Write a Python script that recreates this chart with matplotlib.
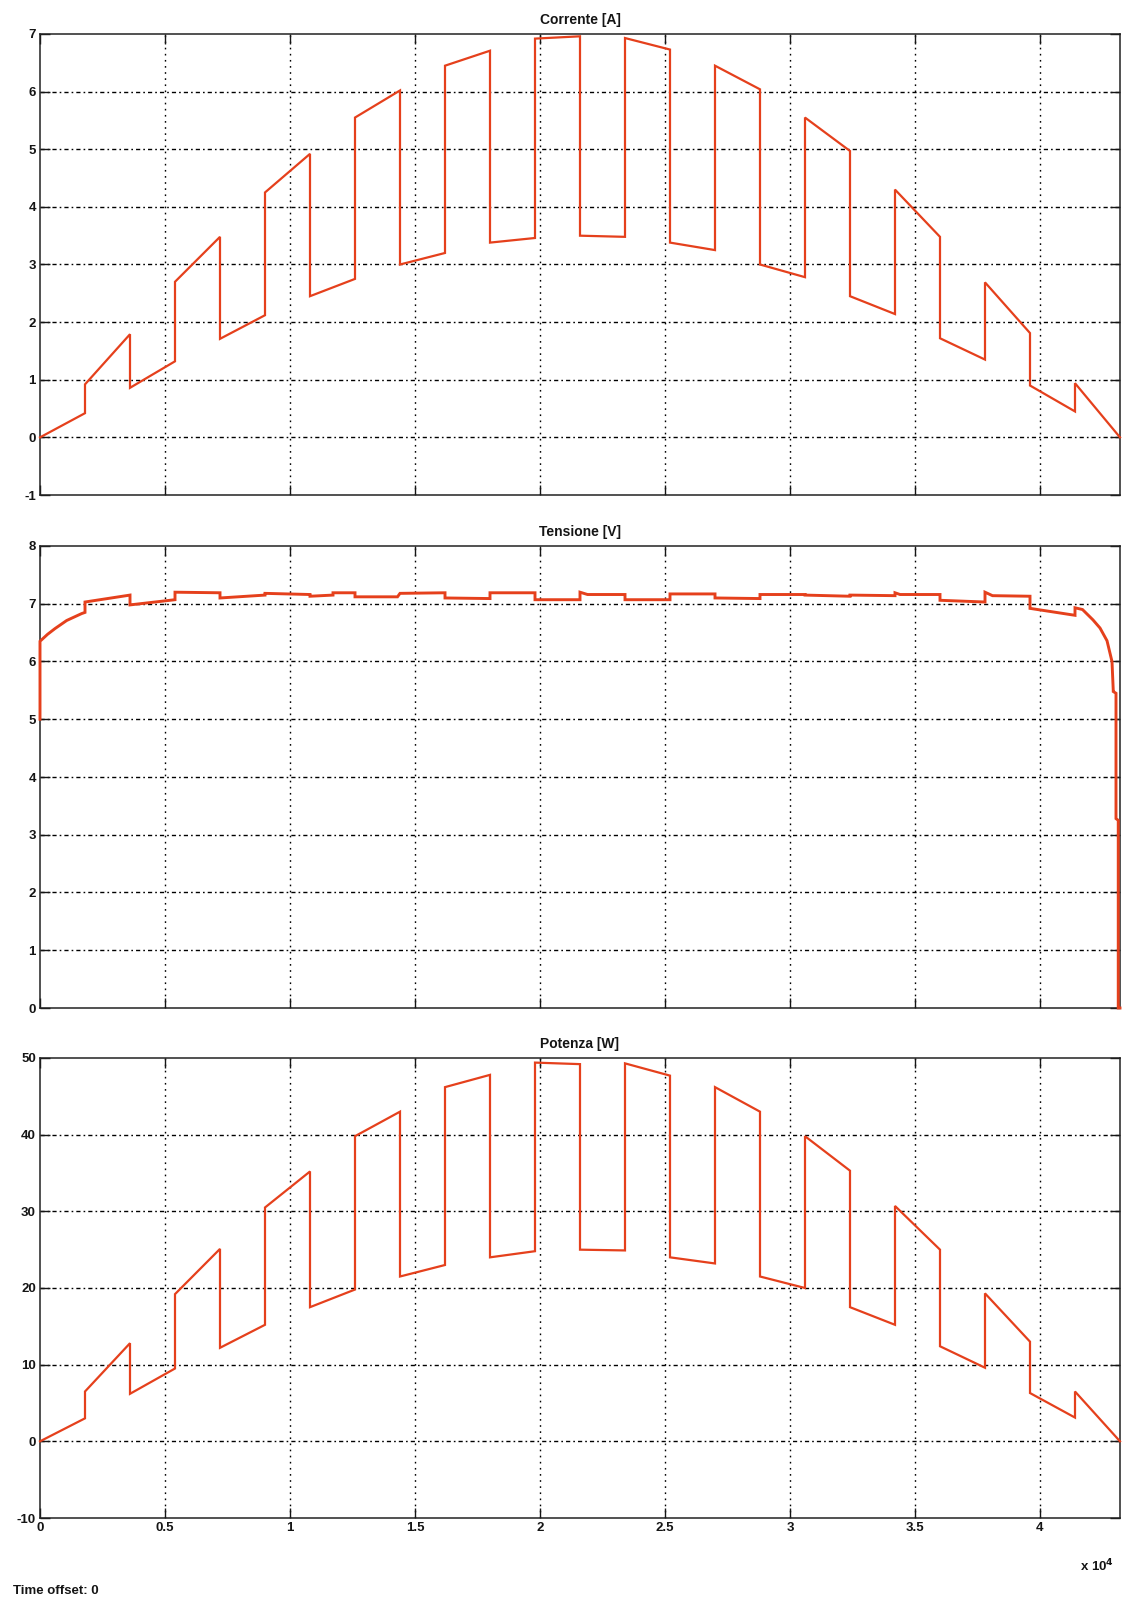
import numpy as np
import matplotlib
matplotlib.use("Agg")
import matplotlib.pyplot as plt

plt.rcParams['font.family'] = ['Liberation Sans', 'DejaVu Sans']
plt.rcParams['lines.scale_dashes'] = False
plt.rcParams['axes.unicode_minus'] = False

# ---- data ----
seg_bounds = [0, 1800, 3600, 5400, 7200, 9000, 10800, 12600, 14400, 16200, 18000,
              19800, 21600, 23400, 25200, 27000, 28800, 30600, 32400, 34200, 36000,
              37800, 39600, 41400, 43200]

current_start = [0.00, 0.92, 0.86, 2.70, 1.71, 4.25, 2.45, 5.55, 3.00, 6.45, 3.38, 6.92,
                 3.50, 6.93, 3.38, 6.45, 3.00, 5.55, 2.45, 4.30, 1.72, 2.69, 0.90, 0.94]
current_end = [0.42, 1.79, 1.32, 3.48, 2.12, 4.92, 2.75, 6.02, 3.20, 6.71, 3.46, 6.96,
               3.48, 6.73, 3.25, 6.04, 2.78, 4.97, 2.14, 3.48, 1.35, 1.81, 0.45, 0.00]

power_start = [0.0, 6.5, 6.2, 19.2, 12.2, 30.5, 17.5, 39.8, 21.5, 46.2, 24.0, 49.4,
               25.0, 49.3, 24.0, 46.2, 21.5, 39.8, 17.5, 30.7, 12.4, 19.3, 6.3, 6.5]
power_end = [3.0, 12.8, 9.5, 25.1, 15.2, 35.2, 19.8, 43.0, 23.0, 47.8, 24.8, 49.2,
             24.9, 47.7, 23.2, 43.0, 20.0, 35.3, 15.2, 25.0, 9.6, 13.0, 3.1, 0.0]

voltage_t = [0, 0, 300, 600, 1067, 1667, 1800, 1800, 3600, 3600, 5400, 5400, 7200, 7200,
             9000, 9000, 10800, 10800, 11720, 11720, 12600, 12600, 14300, 14400, 16200,
             16200, 18000, 18000, 19800, 19800, 21600, 21600, 21900, 23400, 23400, 25200,
             25200, 27000, 27000, 28800, 28800, 30600, 30600, 32400, 32400, 34200, 34200,
             34400, 36000, 36000, 37800, 37800, 38100, 39600, 39600, 41400, 41400, 41700,
             42120, 42400, 42680, 42880, 42930, 42930, 43040, 43040, 43130, 43130, 43200]
voltage_v = [5.00, 6.35, 6.47, 6.57, 6.71, 6.83, 6.85, 7.03, 7.15, 6.98, 7.07, 7.20,
             7.19, 7.10, 7.15, 7.18, 7.16, 7.13, 7.15, 7.19, 7.19, 7.12, 7.12, 7.18,
             7.19, 7.10, 7.09, 7.19, 7.19, 7.07, 7.07, 7.20, 7.16, 7.16, 7.07, 7.07,
             7.17, 7.17, 7.10, 7.09, 7.16, 7.16, 7.15, 7.13, 7.15, 7.14, 7.19, 7.16,
             7.16, 7.06, 7.03, 7.20, 7.14, 7.13, 6.92, 6.80, 6.93, 6.90, 6.72, 6.58,
             6.36, 6.00, 5.50, 5.48, 5.45, 3.28, 3.25, 0.00, 0.00]

x_ticks = [0, 5000, 10000, 15000, 20000, 25000, 30000, 35000, 40000]
x_labels = ['0', '0.5', '1', '1.5', '2', '2.5', '3', '3.5', '4']
titles = ['Corrente [A]', 'Tensione [V]', 'Potenza [W]']
y_ticks = [list(range(-1, 8)), list(range(0, 9)), list(range(-10, 51, 10))]

# ---- build step-segment polylines ----
def seg_line(starts, ends):
    xs, ys = [], []
    for i in range(len(starts)):
        xs += [seg_bounds[i], seg_bounds[i + 1]]
        ys += [starts[i], ends[i]]
    return xs, ys

cur_x, cur_y = seg_line(current_start, current_end)
pow_x, pow_y = seg_line(power_start, power_end)
series = [(cur_x, cur_y), (voltage_t, voltage_v), (pow_x, pow_y)]
widths = [1.6, 2.1, 1.6]

W, H = 1126, 1601
fig = plt.figure(figsize=(W / 100, H / 100), dpi=100)
rects = [(34, 495), (546, 1008), (1058, 1518)]
left, right = 40, 1120
line_color = '#e5401c'
txt_color = '#151515'

for k, ((top, bot), (xs, ys)) in enumerate(zip(rects, series)):
    ax = fig.add_axes([left / W, 1 - bot / H, (right - left) / W, (bot - top) / H])
    ax.plot(xs, ys, color=line_color, lw=widths[k], zorder=5, clip_on=False,
            solid_joinstyle='miter')
    ax.set_xlim(0, 43200)
    yt = y_ticks[k]
    ax.set_ylim(yt[0], yt[-1])
    ax.set_yticks(yt)
    ax.set_xticks(x_ticks)
    if k == 2:
        ax.set_xticklabels(x_labels)
    else:
        ax.set_xticklabels([])
    # grid: vertical dotted, horizontal dash-dot
    for xv in x_ticks[1:]:
        ax.axvline(xv, color='black', lw=1.0, linestyle=(0, (1.2, 3.2)), zorder=1)
    for yv in yt[1:-1]:
        ax.axhline(yv, color='black', lw=1.0, linestyle=(0, (3.0, 2.2, 1.2, 2.2)), zorder=1)
    ax.tick_params(direction='in', length=7, width=1.0, top=True, right=True,
                   labelsize=9.5, pad=3, colors=txt_color)
    for lab in ax.get_xticklabels() + ax.get_yticklabels():
        lab.set_fontweight('bold')
    for sp in ax.spines.values():
        sp.set_linewidth(1.1)
        sp.set_color('#222222')
    ax.set_title(titles[k], fontsize=10, fontweight='bold', pad=7, color=txt_color)

fig.text(1080 / W, 1 - 1566 / H, r'x 10$^{\mathbf{4}}$', fontsize=9.5, fontweight='bold',
         ha='left', va='center', color=txt_color)
fig.text(13 / W, 1 - 1591 / H, 'Time offset: 0', fontsize=9.5, fontweight='bold',
         ha='left', va='center', color=txt_color)

fig.savefig('out.png', dpi=100)
